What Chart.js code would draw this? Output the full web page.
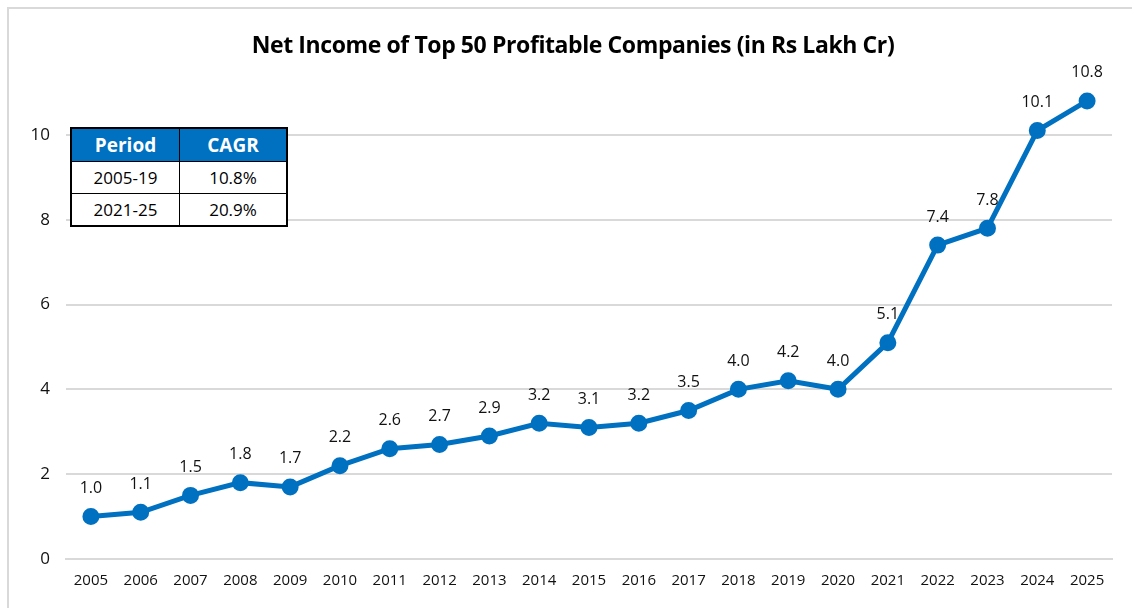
<!DOCTYPE html>
<html>
<head>
<meta charset="utf-8">
<script src="https://cdn.jsdelivr.net/npm/chart.js@4.4.1/dist/chart.umd.min.js"></script>
<style>
  body { margin: 0; background: #fff; }
  #wrap { position: relative; width: 1132px; height: 608px; }
  #frame { position: absolute; left: 7px; top: 7px; right: -2px; bottom: -2px; border-left: 2px solid #d9d9d9; border-top: 2px solid #d9d9d9; }
  #title { position: absolute; left: 0; width: 1146px; top: 28px; text-align: center; font: bold 23px "Open Sans", sans-serif; color: #000; letter-spacing: -0.4px; }
  #cagr { position: absolute; left: 70px; top: 127px; border-collapse: collapse; border: 2px solid #000; font-family: "Open Sans", sans-serif; background: #fff; }
  #cagr th, #cagr td { border: 1px solid #000; text-align: center; padding: 0; }
  #cagr th { background: #0070c0; color: #fff; font-size: 19px; font-weight: bold; height: 32px; }
  #cagr td { font-size: 17px; color: #000; height: 31px; }
  #cagr .c1 { width: 107px; }
  #cagr .c2 { width: 106px; }
</style>
</head>
<body>
<div id="wrap">
  <div id="frame"></div>
  <canvas id="grafico" width="1132" height="608"></canvas>
  <div id="title">Net Income of Top 50 Profitable Companies (in Rs Lakh Cr)</div>
  <table id="cagr">
    <tr><th class="c1">Period</th><th class="c2">CAGR</th></tr>
    <tr><td id="p1"></td><td id="g1"></td></tr>
    <tr><td id="p2"></td><td id="g2"></td></tr>
  </table>
</div>
<script>
// anos
const years = ['2005', '2006', '2007', '2008', '2009', '2010', '2011', '2012', '2013', '2014', '2015',
               '2016', '2017', '2018', '2019', '2020', '2021', '2022', '2023', '2024', '2025'];
// lucro liquido (Rs lakh cr)
const netIncome = [1.0, 1.1, 1.5, 1.8, 1.7, 2.2, 2.6, 2.7, 2.9, 3.2, 3.1,
                   3.2, 3.5, 4.0, 4.2, 4.0, 5.1, 7.4, 7.8, 10.1, 10.8];
// tabela CAGR
const periods = ['2005-19', '2021-25'];
const cagr = ['10.8%', '20.9%'];

document.getElementById('p1').textContent = periods[0];
document.getElementById('p2').textContent = periods[1];
document.getElementById('g1').textContent = cagr[0];
document.getElementById('g2').textContent = cagr[1];

// rotulos em cima dos pontos
const pointLabels = {
  id: 'pointLabels',
  afterDatasetsDraw(chart) {
    const ctx = chart.ctx;
    const meta = chart.getDatasetMeta(0);
    ctx.save();
    ctx.font = '16px "Open Sans", sans-serif';
    ctx.fillStyle = '#111';
    ctx.textAlign = 'center';
    ctx.textBaseline = 'middle';
    meta.data.forEach((pt, i) => {
      ctx.fillText(netIncome[i].toFixed(1), pt.x, pt.y - 28);
    });
    ctx.restore();
  }
};

new Chart(document.getElementById('grafico'), {
  type: 'line',
  data: {
    labels: years,
    datasets: [{
      data: netIncome,
      borderColor: '#0070c0',
      backgroundColor: '#0070c0',
      borderWidth: 5,
      pointRadius: 6,
      pointHoverRadius: 6,
      tension: 0
    }]
  },
  options: {
    responsive: false,
    animation: false,
    layout: { padding: { left: 10, right: 20, top: 50, bottom: 9 } },
    plugins: {
      legend: { display: false },
      title: { display: false },
      tooltip: { enabled: false }
    },
    scales: {
      x: {
        offset: true,
        grid: { display: false },
        border: { color: '#d9d9d9', width: 2 },
        ticks: { color: '#111', font: { family: 'Open Sans', size: 15 }, padding: 5, maxRotation: 0, autoSkip: false },
        afterFit(scale) { scale.height = 40; }
      },
      y: {
        min: 0,
        max: 12,
        border: { display: false },
        grid: {
          color: (c) => (c.tick && c.tick.value === 12) ? 'rgba(0,0,0,0)' : '#d9d9d9',
          lineWidth: 2,
          drawTicks: false
        },
        ticks: {
          stepSize: 2,
          color: '#111',
          font: { family: 'Open Sans', size: 17 },
          padding: 16,
          callback: (v) => v === 12 ? '' : v
        },
        afterFit(scale) { scale.width = 56; }
      }
    }
  },
  plugins: [pointLabels]
});
</script>
</body>
</html>
